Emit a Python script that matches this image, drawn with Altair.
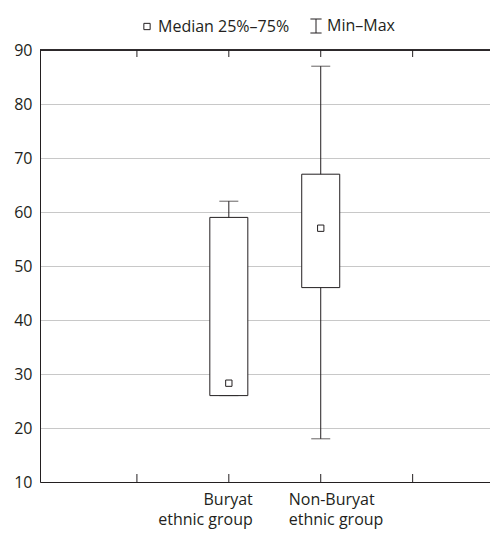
import altair as alt
import pandas as pd

groups = ["Buryat\nethnic group", "Non-Buryat\nethnic group"]
positions = [2, 3]
mins = [26, 18]
q1s = [26, 46]
medians = [28.3, 57]
q3s = [59, 67]
maxs = [62, 87]
x_ticks = [1, 2, 3, 4]
legend_items = ["Median 25%–75%", "Min–Max"]

W, H = 450, 432
FONT = "Open Sans"
INK = "#231f20"
FS = 16

df = pd.DataFrame({"group": groups, "pos": positions, "min": mins, "q1": q1s,
                   "median": medians, "q3": q3s, "max": maxs})
ticks_df = pd.DataFrame({"t": x_ticks})
leg_df = pd.DataFrame({"item": legend_items})

xscale = alt.Scale(domain=[0, W / 94], nice=False, zero=False)
yscale = alt.Scale(domain=[10, 90], nice=False, zero=False)

base = alt.Chart(df)

x_enc = alt.X("pos:Q", scale=xscale,
              axis=alt.Axis(title=None, labels=False, ticks=False, grid=False,
                            domainColor=INK, domainWidth=1))
y_axis = alt.Axis(title=None, values=[10, 20, 30, 40, 50, 60, 70, 80, 90],
                  ticks=False, tickSize=0, labelPadding=8, labelFontSize=FS,
                  labelFont=FONT, labelColor=INK, domainColor=INK,
                  gridColor="#c8c8c8", gridWidth=1.2)

whisker = base.mark_rule(color=INK, strokeWidth=1).encode(
    x=x_enc, y=alt.Y("min:Q", scale=yscale, axis=y_axis), y2="max:Q")

caps_max = base.mark_tick(orient="horizontal", size=19, thickness=1, color=INK).encode(
    x=alt.X("pos:Q", scale=xscale), y=alt.Y("max:Q", scale=yscale))
caps_min = base.mark_tick(orient="horizontal", size=19, thickness=1, color=INK).encode(
    x=alt.X("pos:Q", scale=xscale), y=alt.Y("min:Q", scale=yscale))

box = base.mark_bar(size=38, fill="white", stroke=INK, strokeWidth=1).encode(
    x=alt.X("pos:Q", scale=xscale), y=alt.Y("q1:Q", scale=yscale), y2="q3:Q")

med = base.mark_point(shape="square", size=40, filled=True, fill="white",
                      stroke=INK, strokeWidth=1, opacity=1).encode(
    x=alt.X("pos:Q", scale=xscale), y=alt.Y("median:Q", scale=yscale))

labels_left = alt.Chart(df.iloc[[0]]).mark_text(
    align="right", baseline="top", dx=24, fontSize=FS, font=FONT, color=INK,
    lineBreak="\n", lineHeight=20).encode(
    x=alt.X("pos:Q", scale=xscale), y=alt.value(H + 10), text="group:N")
labels_right = alt.Chart(df.iloc[[1]]).mark_text(
    align="left", baseline="top", dx=-32, fontSize=FS, font=FONT, color=INK,
    lineBreak="\n", lineHeight=20).encode(
    x=alt.X("pos:Q", scale=xscale), y=alt.value(H + 10), text="group:N")

tick_top = alt.Chart(ticks_df).mark_rule(color=INK, strokeWidth=1).encode(
    x=alt.X("t:Q", scale=xscale), y=alt.value(0), y2=alt.value(7))
tick_bot = alt.Chart(ticks_df).mark_rule(color=INK, strokeWidth=1).encode(
    x=alt.X("t:Q", scale=xscale), y=alt.value(H - 8), y2=alt.value(H))

top_border = alt.Chart(ticks_df).mark_rule(color=INK, strokeWidth=1).encode(
    x=alt.value(0), x2=alt.value(W), y=alt.value(0))

legend_layer = alt.Chart(leg_df).mark_point(opacity=0).encode(
    x=alt.value(0), y=alt.value(0),
    shape=alt.Shape("item:N",
                    scale=alt.Scale(domain=legend_items,
                                    range=["M-0.45,-0.45H0.45V0.45H-0.45Z",
                                           "M-0.8,-1H0.8M0,-1V1M-0.8,1H0.8"]),
                    legend=alt.Legend(orient="none", legendX=99, legendY=-32,
                                      direction="horizontal", title=None,
                                      symbolSize=196, symbolStrokeColor=INK,
                                      symbolFillColor="white", symbolOpacity=1,
                                      symbolStrokeWidth=1, labelFontSize=FS,
                                      labelFont=FONT, labelColor=INK,
                                      columnPadding=18, labelOffset=3)))

chart = alt.layer(whisker, caps_max, caps_min, box, med, tick_top, tick_bot,
                  top_border, labels_left, labels_right, legend_layer).properties(
    width=W, height=H,
    autosize=alt.AutoSizeParams(type="none"),
    padding={"left": 32, "top": 42, "right": 0, "bottom": 49},
).configure_view(stroke=None).configure(background="white")

chart.save("out.html", embed_options={"renderer": "svg", "actions": False})
